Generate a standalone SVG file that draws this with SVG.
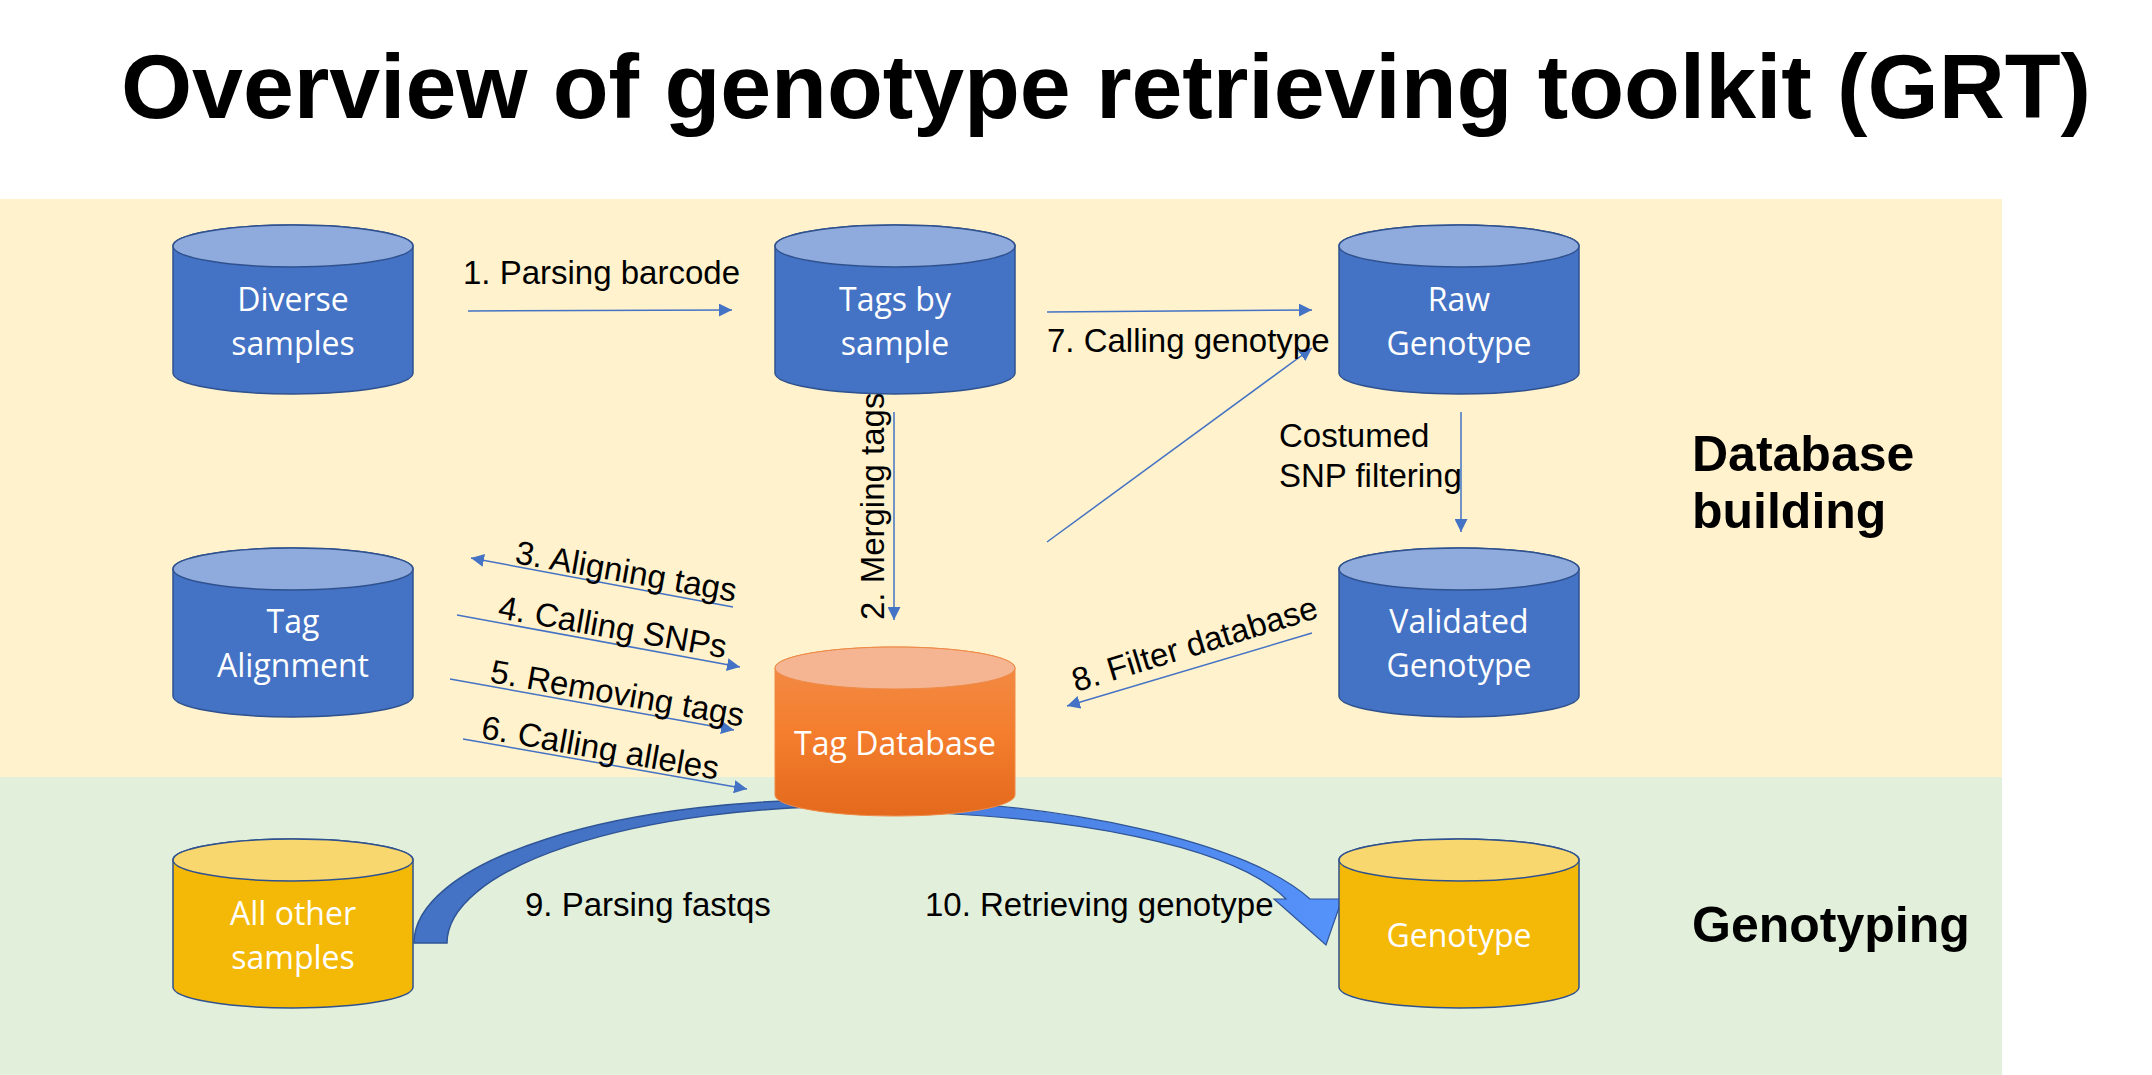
<svg xmlns="http://www.w3.org/2000/svg" xmlns:xlink="http://www.w3.org/1999/xlink" width="2152" height="1075" viewBox="0 0 2152 1075">
<style>
.title{font-family:"Liberation Sans",Arial,sans-serif;font-weight:bold;font-size:91.5px;fill:#000}
.sec{font-family:"Liberation Sans",Arial,sans-serif;font-weight:bold;font-size:50px;fill:#000}
.lbl{font-family:"Liberation Sans",Arial,sans-serif;font-size:33px;fill:#000}
.cyl{font-family:"Open Sans","Noto Sans",sans-serif;font-size:32px;fill:#fff;text-anchor:middle}
.blueBody{fill:#4472C4;stroke:#2F528F;stroke-width:1.5}
.blueTop{fill:#8FAADC;stroke:#2F528F;stroke-width:1.5}
.goldBody{fill:#F4B907;stroke:#2F528F;stroke-width:1.5}
.goldTop{fill:#F9D76F;stroke:#2F528F;stroke-width:1.5}
.orBody{fill:url(#orGrad);stroke:#EE8A46;stroke-width:1}
.orTop{fill:#F5B592;stroke:#EE8A46;stroke-width:1}
.conn{fill:none;stroke:#4472C4;stroke-width:1.5;marker-end:url(#ah)}
</style>
<defs>
<marker id="ah" markerUnits="userSpaceOnUse" markerWidth="13" markerHeight="13" viewBox="0 0 12 12" refX="12" refY="6" orient="auto">
<path d="M0,0 L12,6 L0,12 Z" fill="#4472C4"/>
</marker>
<linearGradient id="orGrad" x1="0" y1="0" x2="0" y2="1">
<stop offset="0" stop-color="#F28D4A"/>
<stop offset="0.5" stop-color="#F47E2E"/>
<stop offset="1" stop-color="#E4691C"/>
</linearGradient>
<linearGradient id="arcGrad" x1="860" y1="0" x2="1340" y2="0" gradientUnits="userSpaceOnUse">
<stop offset="0" stop-color="#4679D8"/>
<stop offset="1" stop-color="#5592FA"/>
</linearGradient>
<path id="cylBody" d="M0,21 L0,148 A120,21 0 0 0 240,148 L240,21 A120,21 0 0 0 0,21 Z"/>
<ellipse id="cylTop" cx="120" cy="21" rx="120" ry="21"/>
</defs>

<rect x="0" y="0" width="2152" height="1075" fill="#fff"/>
<rect x="0" y="199" width="2002" height="578" fill="#FFF2CC"/>
<rect x="0" y="777" width="2002" height="298" fill="#E2EFDA"/>

<text class="title" x="121" y="118" textLength="1970">Overview of genotype retrieving toolkit (GRT)</text>
<text class="sec" x="1692" y="471">Database</text>
<text class="sec" x="1692" y="528">building</text>
<text class="sec" x="1692" y="942">Genotyping</text>

<g id="bigArcs">
<path d="M414,943 A424,143 0 0 1 860,800 L860,806 A413,137 0 0 0 447,943 Z" fill="#4472C4" stroke="#2F5597" stroke-width="1.5"/>
<path d="M860,798 A506,145 0 0 1 1310,899 L1342,899 L1326,945 L1274,899 L1286,899 C1235,848 1080,813 860,811 Z" fill="url(#arcGrad)" stroke="#2F5597" stroke-width="1.2"/>
</g>

<g id="connectors">
<path class="conn" d="M468,311 L732,310"/>
<path class="conn" d="M1047,312 L1312,310"/>
<path class="conn" d="M1047,542 L1312,348"/>
<path class="conn" d="M1461,412 L1461,532"/>
<path class="conn" d="M894,412 L894,620"/>
<path class="conn" d="M733,607 L471,558"/>
<path class="conn" d="M457,615 L740,667"/>
<path class="conn" d="M450,679 L734,730"/>
<path class="conn" d="M463,739 L747,789"/>
<path class="conn" d="M1312,633 L1067,706"/>
</g>

<g id="labels">
<text class="lbl" x="463" y="284">1. Parsing barcode</text>
<text class="lbl" x="1047" y="352">7. Calling genotype</text>
<text class="lbl" x="1279" y="447">Costumed</text>
<text class="lbl" x="1279" y="487">SNP filtering</text>
<text class="lbl" transform="translate(884,620) rotate(-90)">2. Merging tags</text>
<text class="lbl" transform="translate(514,563) rotate(10)">3. Aligning tags</text>
<text class="lbl" transform="translate(497,618) rotate(10)">4. Calling SNPs</text>
<text class="lbl" transform="translate(489,682) rotate(10)">5. Removing tags</text>
<text class="lbl" transform="translate(480,738) rotate(10)">6. Calling alleles</text>
<text class="lbl" transform="translate(1076,692) rotate(-17)">8. Filter database</text>
<text class="lbl" x="525" y="916">9. Parsing fastqs</text>
<text class="lbl" x="925" y="916">10. Retrieving genotype</text>
</g>

<g id="diverse-samples">
<use xlink:href="#cylBody" class="blueBody" x="173" y="225"/>
<use xlink:href="#cylTop" class="blueTop" x="173" y="225"/>
<text class="cyl" x="293" y="311">Diverse</text>
<text class="cyl" x="293" y="355">samples</text>
</g>
<g id="tags-by-sample">
<use xlink:href="#cylBody" class="blueBody" x="775" y="225"/>
<use xlink:href="#cylTop" class="blueTop" x="775" y="225"/>
<text class="cyl" x="895" y="311">Tags by</text>
<text class="cyl" x="895" y="355">sample</text>
</g>
<g id="raw-genotype">
<use xlink:href="#cylBody" class="blueBody" x="1339" y="225"/>
<use xlink:href="#cylTop" class="blueTop" x="1339" y="225"/>
<text class="cyl" x="1459" y="311">Raw</text>
<text class="cyl" x="1459" y="355">Genotype</text>
</g>
<g id="tag-alignment">
<use xlink:href="#cylBody" class="blueBody" x="173" y="548"/>
<use xlink:href="#cylTop" class="blueTop" x="173" y="548"/>
<text class="cyl" x="293" y="633">Tag</text>
<text class="cyl" x="293" y="677">Alignment</text>
</g>
<g id="validated-genotype">
<use xlink:href="#cylBody" class="blueBody" x="1339" y="548"/>
<use xlink:href="#cylTop" class="blueTop" x="1339" y="548"/>
<text class="cyl" x="1459" y="633">Validated</text>
<text class="cyl" x="1459" y="677">Genotype</text>
</g>
<g id="tag-database">
<use xlink:href="#cylBody" class="orBody" x="775" y="647"/>
<use xlink:href="#cylTop" class="orTop" x="775" y="647"/>
<text class="cyl" x="895" y="755">Tag Database</text>
</g>
<g id="all-other-samples">
<use xlink:href="#cylBody" class="goldBody" x="173" y="839"/>
<use xlink:href="#cylTop" class="goldTop" x="173" y="839"/>
<text class="cyl" x="293" y="925">All other</text>
<text class="cyl" x="293" y="969">samples</text>
</g>
<g id="genotype">
<use xlink:href="#cylBody" class="goldBody" x="1339" y="839"/>
<use xlink:href="#cylTop" class="goldTop" x="1339" y="839"/>
<text class="cyl" x="1459" y="947">Genotype</text>
</g>
</svg>
